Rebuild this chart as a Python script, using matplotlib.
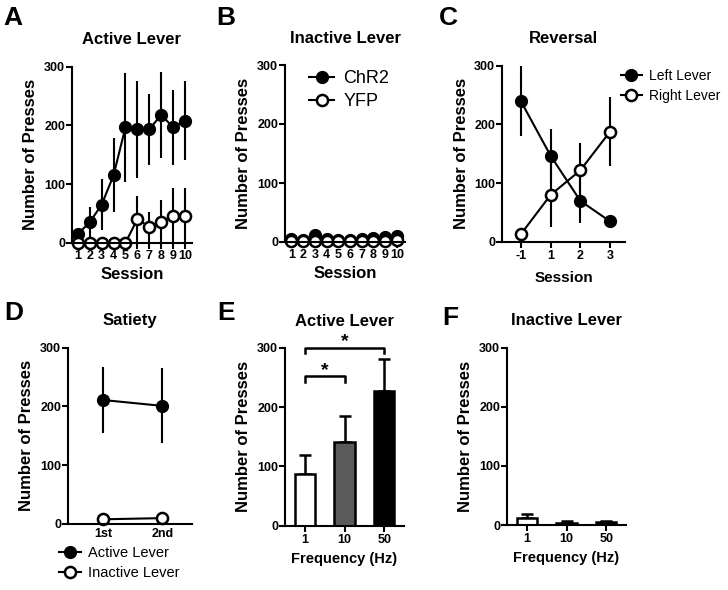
import numpy as np
import matplotlib
matplotlib.use('Agg')
import matplotlib.pyplot as plt
from matplotlib.lines import Line2D

plt.rcParams['font.family'] = ['Liberation Sans', 'DejaVu Sans']
plt.rcParams['axes.linewidth'] = 1.5

# --- data ---------------------------------------------------------------
sessions = np.arange(1, 11)
a_chr2 = [15, 35, 65, 115, 197, 193, 193, 218, 197, 208]
a_chr2_err = [8, 25, 43, 63, 93, 83, 61, 73, 64, 67]
a_yfp = [0, 0, 0, 0, 0, 40, 27, 35, 46, 46]
a_yfp_err = [0, 0, 0, 0, 0, 40, 26, 37, 47, 47]

b_chr2 = [5, 3, 12, 5, 3, 3, 5, 6, 8, 10]
b_chr2_err = [3, 2, 5, 3, 2, 2, 3, 3, 4, 5]
b_yfp = [2, 1, 2, 2, 1, 1, 2, 1, 2, 3]
b_yfp_err = [1, 1, 1, 1, 1, 1, 1, 1, 1, 1]

rev_labels = ['-1', '1', '2', '3']
rev_left = [240, 147, 70, 35]
rev_left_err = [60, 46, 38, 5]
rev_right = [13, 80, 122, 188]
rev_right_err = [5, 55, 46, 58]

sat_labels = ['1st', '2nd']
sat_active = [211, 201]
sat_active_err = [57, 64]
sat_inactive = [8, 10]
sat_inactive_err = [2, 2]

freq_labels = ['1', '10', '50']
freq_active = [88, 142, 228]
freq_active_err = [32, 44, 54]
freq_inactive = [12, 4, 5]
freq_inactive_err = [6, 2, 2]
bar_colors = ['white', '#5a5a5a', 'black']

W, H = 728, 590
fig = plt.figure(figsize=(W / 100, H / 100), dpi=100)


def make_ax(l, r, t, b):
    ax = fig.add_axes([l / W, 1 - b / H, (r - l) / W, (b - t) / H])
    ax.spines['top'].set_visible(False)
    ax.spines['right'].set_visible(False)
    for s in ax.spines.values():
        s.set_zorder(5)
    ax.set_ylim(0, 300)
    ax.set_yticks([0, 100, 200, 300])
    ax.tick_params(axis='y', length=4, width=1.5, pad=1, labelsize=9)
    ax.tick_params(axis='x', length=4, width=1.5, pad=2, labelsize=9)
    for lab in ax.get_yticklabels():
        lab.set_fontweight('bold')
    ax.set_ylabel('Number of Presses', fontsize=12, fontweight='bold', labelpad=4)
    return ax


def bold_xticks(ax):
    for lab in ax.get_xticklabels():
        lab.set_fontweight('bold')


def legend_at(handles, labels, x, y, size, hl, tp, ls):
    fig.legend(handles, labels, loc='upper left', bbox_to_anchor=(x / W, 1 - y / H),
               frameon=False, fontsize=size, handlelength=hl, handletextpad=tp,
               labelspacing=ls, borderpad=0, borderaxespad=0)


filled = dict(marker='o', color='black', mfc='black', mec='black', ms=8.5,
              lw=1.5, clip_on=False, zorder=3)
opened = dict(marker='o', color='black', mfc='white', mec='black', ms=8,
              mew=1.8, lw=1.5, clip_on=False, zorder=4)

# --- A ---
ax = make_ax(72, 192, 66.7, 242.7)
ax.errorbar(sessions, a_chr2, yerr=a_chr2_err, ecolor='black', elinewidth=1.5,
            capsize=0, **filled)
ax.errorbar(sessions, a_yfp, yerr=a_yfp_err, ecolor='black', elinewidth=1.5,
            capsize=0, **opened)
ax.set_xlim(0.5, 10.6)
ax.set_xticks(sessions)
ax.tick_params(axis='x', pad=1)
bold_xticks(ax)
ax.set_title('Active Lever', fontsize=12, fontweight='bold', pad=16)
ax.set_xlabel('Session', fontsize=12, fontweight='bold', labelpad=4)

# --- B ---
ax = make_ax(285, 405, 65, 242)
ax.errorbar(sessions, b_chr2, yerr=b_chr2_err, ecolor='black', elinewidth=1.5,
            capsize=0, **filled)
ax.errorbar(sessions, b_yfp, yerr=b_yfp_err, ecolor='black', elinewidth=1.5,
            capsize=0, **opened)
ax.set_xlim(0.45, 10.7)
ax.set_xticks(sessions)
ax.tick_params(axis='x', pad=1)
bold_xticks(ax)
ax.set_title('Inactive Lever', fontsize=12, fontweight='bold', pad=16)
ax.set_xlabel('Session', fontsize=12, fontweight='bold', labelpad=4)
hb = [Line2D([], [], **{k: v for k, v in filled.items() if k not in ('clip_on', 'zorder')}),
      Line2D([], [], **{k: v for k, v in opened.items() if k not in ('clip_on', 'zorder')})]
legend_at(hb, ['ChR2', 'YFP'], 309, 70, 13, 1.4, 0.5, 0.35)

# --- C ---
ax = make_ax(502, 625, 65.7, 242)
xr = np.arange(len(rev_labels))
ax.errorbar(xr, rev_left, yerr=rev_left_err, ecolor='black', elinewidth=1.5,
            capsize=0, **filled)
ax.errorbar(xr, rev_right, yerr=rev_right_err, ecolor='black', elinewidth=1.5,
            capsize=0, **opened)
ax.set_xlim(-0.63, 3.5)
ax.set_xticks(xr)
ax.set_xticklabels(rev_labels)
bold_xticks(ax)
ax.set_title('Reversal', fontsize=12, fontweight='bold', pad=16)
ax.set_xlabel('Session', fontsize=11, fontweight='bold', labelpad=6)
legend_at(hb, ['Left Lever', 'Right Lever'], 621, 69, 10, 1.5, 0.5, 0.45)

# --- D ---
ax = make_ax(68, 192, 347.7, 524)
xs = np.arange(len(sat_labels))
ax.errorbar(xs, sat_active, yerr=sat_active_err, ecolor='black', elinewidth=1.5,
            capsize=0, **filled)
ax.errorbar(xs, sat_inactive, yerr=sat_inactive_err, ecolor='black', elinewidth=1.5,
            capsize=0, **opened)
ax.set_xlim(-0.59, 1.5)
ax.set_xticks(xs)
ax.set_xticklabels(sat_labels)
ax.tick_params(axis='x', length=0, pad=3)
bold_xticks(ax)
ax.set_title('Satiety', fontsize=12, fontweight='bold', pad=16)
legend_at(hb, ['Active Lever', 'Inactive Lever'], 59, 546, 10.5, 1.5, 0.5, 0.4)

# --- E ---
ax = make_ax(285, 404, 348, 525.7)
xf = np.arange(len(freq_labels))
ax.bar(xf, freq_active, width=0.52, color=bar_colors, edgecolor='black',
       linewidth=1.8, zorder=2)
ax.errorbar(xf, freq_active, yerr=[[0] * 3, freq_active_err], fmt='none',
            ecolor='black', elinewidth=1.8, capsize=4, capthick=1.8, zorder=1)
ax.set_xlim(-0.5, 2.5)
ax.set_xticks(xf)
ax.set_xticklabels(freq_labels)
bold_xticks(ax)
ax.set_title('Active Lever', fontsize=12, fontweight='bold', pad=16)
ax.set_xlabel('Frequency (Hz)', fontsize=10.5, fontweight='bold', labelpad=4)
# significance brackets
ax.plot([0, 0, 2, 2], [291, 300, 300, 291], color='black', lw=1.8, clip_on=False)
ax.text(1, 296, '*', ha='center', va='bottom', fontsize=14, fontweight='bold')
ax.plot([0, 0, 1, 1], [243, 252, 252, 243], color='black', lw=1.8, clip_on=False)
ax.text(0.5, 248, '*', ha='center', va='bottom', fontsize=14, fontweight='bold')

# --- F ---
ax = make_ax(507, 626, 347.7, 525)
ax.bar(xf, freq_inactive, width=0.52, color=bar_colors, edgecolor='black',
       linewidth=1.8, zorder=2)
ax.errorbar(xf, freq_inactive, yerr=[[0] * 3, freq_inactive_err], fmt='none',
            ecolor='black', elinewidth=1.8, capsize=4, capthick=1.8, zorder=1)
ax.set_xlim(-0.5, 2.5)
ax.set_xticks(xf)
ax.set_xticklabels(freq_labels)
bold_xticks(ax)
ax.set_title('Inactive Lever', fontsize=12, fontweight='bold', pad=16)
ax.set_xlabel('Frequency (Hz)', fontsize=10.5, fontweight='bold', labelpad=4)

# --- panel letters ---
for letter, x, y in [('A', 3, 6), ('B', 216, 6), ('C', 439, 6),
                     ('D', 4, 301), ('E', 217, 301), ('F', 442, 306)]:
    fig.text(x / W, 1 - y / H, letter, fontsize=19, fontweight='bold',
             ha='left', va='top')

fig.savefig('out.png', dpi=100)
